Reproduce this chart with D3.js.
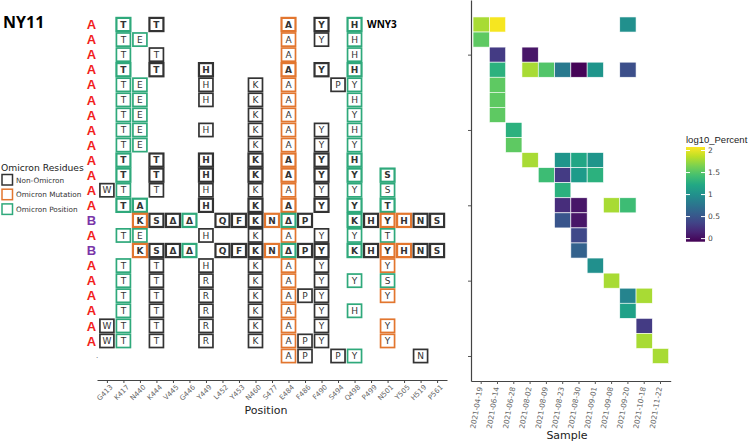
<!DOCTYPE html>
<html>
<head>
<meta charset="utf-8">
<script src="https://cdn.jsdelivr.net/npm/d3@7"></script>
<style>
  body { margin: 0; background: #fff; }
  text { font-family: "DejaVu Sans", sans-serif; }
</style>
</head>
<body>
<script>
// positions on the spike (x of left panel)
var positions = ["G413","K417","N440","K444","V445","G446","Y449","L452","Y453","N460","S477",
                 "E484","F486","F490","S494","Q498","P499","N501","Y505","H519","P561"]

var samples = ["2021-04-19","2021-06-14","2021-06-28","2021-08-02","2021-08-09","2021-08-23",
               "2021-08-30","2021-09-01","2021-09-08","2021-09-20","2021-10-18","2021-11-22"]

var rowLabels = ["A","A","A","A","A","A","A","A","A","A","A","A","A","B","A","B","A","A","A","A","A","A","."]
var boldRows = [0, 3, 9, 10, 12, 13, 15]

// residue per row: "position residue type"  k = non-omicron, o = omicron mutation, g = omicron position
var residueRows = [
  "K417 T g, K444 T k, E484 A o, F490 Y k, Q498 H g",
  "K417 T g, N440 E g, E484 A o, F490 Y k, Q498 H g",
  "K417 T g, K444 T k, E484 A o, Q498 H g",
  "K417 T g, K444 T k, Y449 H k, E484 A o, F490 Y k, Q498 H g",
  "K417 T g, N440 E g, Y449 H k, N460 K k, E484 A o, S494 P k, Q498 Y g",
  "K417 T g, N440 E g, Y449 H k, N460 K k, E484 A o, Q498 H g",
  "K417 T g, N440 E g, N460 K k, E484 A o, Q498 Y g",
  "K417 T g, N440 E g, Y449 H k, N460 K k, E484 A o, F490 Y k, Q498 H g",
  "K417 T g, N440 E g, N460 K k, E484 A o, F490 Y k, Q498 Y g",
  "K417 T g, K444 T k, Y449 H k, N460 K k, E484 A o, F490 Y k, Q498 H g",
  "K417 T g, K444 T k, Y449 H k, N460 K k, E484 A o, F490 Y k, Q498 Y g, N501 S g",
  "G413 W k, K417 T g, K444 T k, Y449 H k, N460 K k, E484 A o, F490 Y k, Q498 Y g, N501 S g",
  "K417 T g, N440 A g, Y449 H k, N460 K k, E484 A o, F490 Y k, Q498 Y g, N501 T g",
  "N440 K o, K444 S k, V445 Δ k, G446 Δ g, L452 Q k, Y453 F k, N460 K k, S477 N o, E484 Δ g, F486 P k, Q498 K g, P499 H k, N501 Y o, Y505 H o, H519 N k, P561 S k",
  "K417 T g, N440 E g, Y449 H k, N460 K k, E484 A o, F490 Y k, Q498 Y g, N501 T g",
  "N440 K o, K444 S k, V445 Δ k, G446 Δ g, L452 Q k, Y453 F k, N460 K k, S477 N o, E484 Δ g, F486 P k, F490 Y k, Q498 K g, P499 H k, N501 Y o, Y505 H o, H519 N k, P561 S k",
  "K417 T g, K444 T k, Y449 H k, N460 K k, E484 A o, F490 Y k, N501 Y o",
  "K417 T g, K444 T k, Y449 R k, N460 K k, E484 A o, F490 Y k, Q498 Y g, N501 S g",
  "K417 T g, K444 T k, Y449 R k, N460 K k, E484 A o, F486 P k, F490 Y k, N501 Y o",
  "K417 T g, K444 T k, Y449 R k, N460 K k, E484 A o, F490 Y k, Q498 H g",
  "G413 W k, K417 T g, K444 T k, Y449 R k, N460 K k, E484 A o, F490 Y k, N501 Y o",
  "G413 W k, K417 T g, K444 T k, Y449 R k, N460 K k, E484 A o, F486 P k, F490 Y k, N501 Y o",
  "E484 A o, F486 P k, S494 P k, Q498 Y g, H519 N k"
]

// log10 percent per row: "sample value"
var percentRows = [
  "2021-04-19 1.8, 2021-06-14 2.05, 2021-09-20 1.0",
  "2021-04-19 1.55",
  "2021-06-14 0.3, 2021-08-02 0.05",
  "2021-06-14 1.3, 2021-08-02 1.8, 2021-08-09 1.5, 2021-08-23 0.8, 2021-08-30 -0.05, 2021-09-01 1.05, 2021-09-20 0.45",
  "2021-06-14 1.55",
  "2021-06-14 1.55",
  "2021-06-14 1.55",
  "2021-06-28 1.3",
  "2021-06-28 1.55",
  "2021-08-02 1.8, 2021-08-23 1.05, 2021-08-30 1.2, 2021-09-01 1.05",
  "2021-08-09 1.4, 2021-08-23 0.3, 2021-08-30 1.1, 2021-09-01 1.3",
  "2021-08-23 1.3",
  "2021-08-23 0.2, 2021-08-30 0.05, 2021-09-08 1.8, 2021-09-20 1.4",
  "2021-08-23 0.5, 2021-08-30 0.05",
  "2021-08-30 0.4",
  "2021-08-30 0.6",
  "2021-09-01 1.0",
  "2021-09-08 1.8",
  "2021-09-20 0.9, 2021-10-18 1.8",
  "2021-09-20 1.15",
  "2021-10-18 0.3",
  "2021-10-18 1.8",
  "2021-11-22 1.8"
]

var colorbarTicks = [0, 0.5, 1, 1.5, 2]
var legendItems = [["Non-Omicron","k"],["Omicron Mutation","o"],["Omicron Position","g"]]

var typeColor = {k: "#333333", o: "#e2762f", g: "#2fa97b"}

function main() {
  var svg = d3.select("body").append("svg").attr("width", 750).attr("height", 441)

  // shared row scale (both panels)
  var y = d3.scaleLinear().domain([-1.626, 23.66]).range([0, 381])
  var x = d3.scalePoint().domain(positions).range([97, 447]).padding(0.6)

  // ---- left panel ----
  svg.append("text").text("NY11").attr("x", 3).attr("y", 28)
    .style("font-family", "'Open Sans', sans-serif").style("font-weight", "bold").style("font-size", "16px")

  svg.append("text").text("WNY3").attr("x", 367).attr("y", 28)
    .style("font-family", "'Open Sans', sans-serif").style("font-weight", "bold").style("font-size", "10px")

  rowLabels.forEach(function(lab, i) {
    if (lab == ".") {
      svg.append("text").text(".").attr("x", 96).attr("y", y(i) + 2).style("font-size", "7px").attr("fill", "#555")
      return
    }
    svg.append("text").text(lab)
      .attr("x", 91.5).attr("y", y(i)).attr("dy", "0.36em")
      .attr("text-anchor", "middle")
      .style("font-family", "'Liberation Sans', sans-serif").style("font-weight", "bold").style("font-size", "13px")
      .attr("fill", lab == "A" ? "#f21d1d" : "#7a35a8")
  })

  var cells = []
  residueRows.forEach(function(str, i) {
    str.split(", ").forEach(function(s) {
      var p = s.split(" ")
      cells.push({row: i, pos: p[0], res: p[1], type: p[2], bold: boldRows.indexOf(i) >= 0})
    })
  })

  var g = svg.append("g").selectAll("g").data(cells).enter().append("g")
    .attr("transform", function(d) { return "translate(" + x(d.pos) + "," + y(d.row) + ")" })
  g.append("rect")
    .attr("x", -7).attr("y", -6.6).attr("width", 14).attr("height", 13.2)
    .attr("fill", "white")
    .attr("stroke", function(d) { return typeColor[d.type] })
    .attr("stroke-width", function(d) { return d.bold ? 2.2 : 1.7 })
  g.append("text").text(function(d) { return d.res })
    .attr("text-anchor", "middle").attr("dy", "0.36em")
    .style("font-size", "9px")
    .style("font-weight", function(d) { return d.bold ? "bold" : "normal" })
    .attr("fill", "#333")

  var xAxis = svg.append("g").attr("transform", "translate(0,380)")
    .call(d3.axisBottom(x).tickSize(3).tickSizeOuter(0))
  xAxis.select(".domain").attr("stroke", "#444")
  xAxis.selectAll(".tick line").attr("stroke", "#444")
  xAxis.selectAll("text")
    .attr("transform", "rotate(-45)").attr("text-anchor", "end")
    .attr("dx", "-0.2em").attr("dy", "0.5em")
    .style("font-size", "7px").attr("fill", "#666")
  svg.append("text").text("Position").attr("x", 266).attr("y", 414)
    .attr("text-anchor", "middle").style("font-size", "11px").attr("fill", "#222")

  // legend
  svg.append("text").text("Omicron Residues").attr("x", 1).attr("y", 171)
    .style("font-size", "9.2px").attr("fill", "#222")
  legendItems.forEach(function(it, i) {
    svg.append("rect").attr("x", 2).attr("y", 174.5 + i * 14.7).attr("width", 10.5).attr("height", 10.5)
      .attr("fill", "white").attr("stroke", typeColor[it[1]]).attr("stroke-width", 1.5)
    svg.append("text").text(it[0]).attr("x", 16).attr("y", 182.5 + i * 14.7)
      .style("font-size", "7.3px").attr("fill", "#333")
  })

  // ---- right panel: heatmap ----
  var xs = d3.scaleBand().domain(samples).range([471, 670.7]).paddingOuter(0.125)
  var color = d3.scaleSequential(d3.interpolateViridis).domain([-0.07, 2.08])
  var step = y(1) - y(0)

  var heat = []
  percentRows.forEach(function(str, i) {
    str.split(", ").forEach(function(s) {
      var p = s.split(" ")
      heat.push({row: i, sample: p[0], value: +p[1]})
    })
  })

  svg.append("g").selectAll("rect").data(heat).enter().append("rect")
    .attr("x", function(d) { return xs(d.sample) })
    .attr("y", function(d) { return y(d.row) - step / 2 })
    .attr("width", xs.bandwidth())
    .attr("height", step)
    .attr("fill", function(d) { return color(d.value) })
    .attr("stroke", "white").attr("stroke-width", 0.6)

  var yAxis = svg.append("g").attr("transform", "translate(471,0)")
    .call(d3.axisLeft(y).tickValues([2, 7, 12, 17, 22]).tickFormat("").tickSize(3).tickSizeOuter(0))
  yAxis.select(".domain").attr("stroke", "#444").attr("stroke-width", 1.2)
  yAxis.selectAll(".tick line").attr("stroke", "#555")

  var sAxis = svg.append("g").attr("transform", "translate(0,381)")
    .call(d3.axisBottom(xs).tickSize(3).tickSizeOuter(0))
  sAxis.select(".domain").attr("stroke", "#444").attr("stroke-width", 1.2)
  sAxis.selectAll(".tick line").attr("stroke", "#555")
  sAxis.selectAll("text")
    .attr("transform", "rotate(-80)").attr("text-anchor", "end")
    .attr("x", -6).attr("y", 0).attr("dy", "0.35em")
    .style("font-size", "7.3px").attr("fill", "#666")
  svg.append("text").text("Sample").attr("x", 567).attr("y", 439)
    .attr("text-anchor", "middle").style("font-size", "11px").attr("fill", "#222")

  // colorbar
  var cb = d3.scaleLinear().domain([-0.07, 2.08]).range([241.7, 147])
  var grad = svg.append("defs").append("linearGradient").attr("id", "vir")
    .attr("x1", 0).attr("y1", 1).attr("x2", 0).attr("y2", 0)
  d3.range(0, 1.001, 0.1).forEach(function(t) {
    grad.append("stop").attr("offset", t).attr("stop-color", d3.interpolateViridis(t))
  })
  svg.append("text").text("log10_Percent").attr("x", 686).attr("y", 143)
    .style("font-family", "'Liberation Sans', sans-serif")
    .style("font-size", "9.5px").attr("fill", "#222")
  svg.append("rect").attr("x", 686).attr("y", 147).attr("width", 19).attr("height", 94.7)
    .attr("fill", "url(#vir)")
  colorbarTicks.forEach(function(v) {
    svg.append("line").attr("x1", 686).attr("x2", 690).attr("y1", cb(v)).attr("y2", cb(v))
      .attr("stroke", "white").attr("stroke-width", 1)
    svg.append("line").attr("x1", 701).attr("x2", 705).attr("y1", cb(v)).attr("y2", cb(v))
      .attr("stroke", "white").attr("stroke-width", 1)
    svg.append("text").text(v).attr("x", 708).attr("y", cb(v)).attr("dy", "0.35em")
      .style("font-size", "7.5px").attr("fill", "#444")
  })
}

main()
</script>
</body>
</html>
